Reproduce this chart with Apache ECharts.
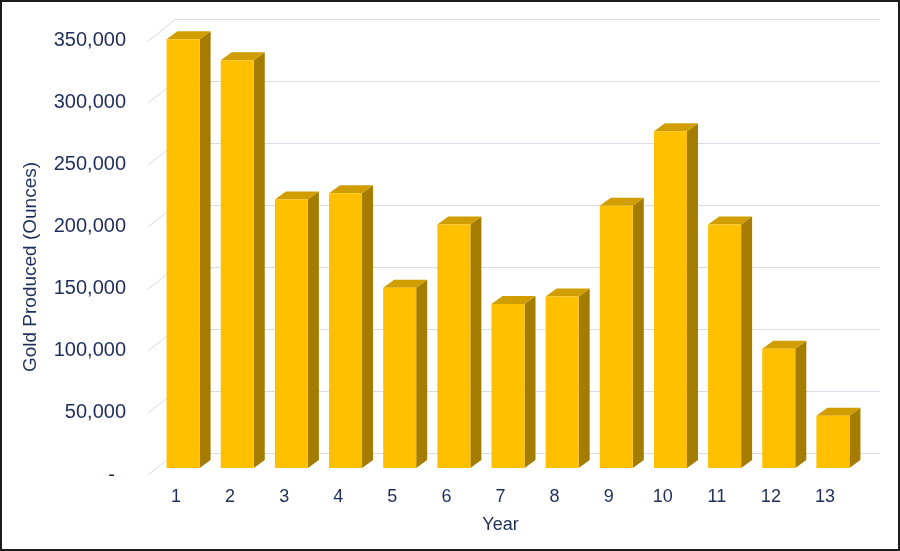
<!DOCTYPE html>
<html>
<head>
<meta charset="utf-8">
<script src="https://cdn.jsdelivr.net/npm/echarts@6/dist/echarts.min.js"></script>
<style>
html,body{margin:0;padding:0;background:#fff;}
#chart{width:900px;height:551px;box-sizing:border-box;border:2px solid #1c1c1c;}
</style>
</head>
<body>
<div id="chart"></div>
<script>
var years = ['1','2','3','4','5','6','7','8','9','10','11','12','13'];
var goldOunces = [345000, 328000, 216000, 221000, 145000, 196000, 132000, 138000, 211000, 271000, 196000, 96000, 42000];
var yTicks = [0, 50000, 100000, 150000, 200000, 250000, 300000, 350000];
var yMax = 350000;
var yStep = 50000;

var textColor = '#1f2d5a';
var gridColor = '#d8dce8';
var faceColor = '#ffc000';
var topColor = '#d09e00';
var sideColor = '#a47c00';
var depthX = 28, depthY = -22;   // wall depth
var barDX = 11, barDY = -8;      // bar depth

var chart = echarts.init(document.getElementById('chart'), null, {renderer: 'canvas'});

var option = {
  backgroundColor: '#ffffff',
  animation: false,
  textStyle: {fontFamily: 'Liberation Sans, Arial, sans-serif'},
  grid: [
    {left: 174, right: 18, top: 17, bottom: 96},   // back wall
    {left: 147, right: 46, top: 38, bottom: 74},   // front labels
    {left: 154, right: 38, top: 31, bottom: 81}    // bars
  ],
  xAxis: [
    {gridIndex: 0, type: 'value', min: 0, max: 1, show: false},
    {gridIndex: 1, type: 'category', data: years,
     axisLine: {show: false}, axisTick: {show: false},
     axisLabel: {color: textColor, fontSize: 18, margin: 13, fontFamily: 'Liberation Sans'},
     name: 'Year', nameLocation: 'middle', nameGap: 41,
     nameTextStyle: {color: textColor, fontSize: 18, fontFamily: 'Liberation Sans'}},
    {gridIndex: 2, type: 'category', data: years, show: false}
  ],
  yAxis: [
    {gridIndex: 0, type: 'value', min: 0, max: yMax, interval: yStep,
     axisLine: {show: false}, axisTick: {show: false}, axisLabel: {show: false},
     splitLine: {show: true, lineStyle: {color: gridColor, width: 1}}},
    {gridIndex: 1, type: 'value', min: 0, max: yMax, interval: yStep,
     axisLine: {show: false}, axisTick: {show: false}, splitLine: {show: false},
     axisLabel: {color: textColor, fontSize: 20, margin: 23, fontFamily: 'Liberation Sans',
       formatter: function (v) { return v === 0 ? '-  ' : v.toLocaleString('en-US'); }}},
    {gridIndex: 2, type: 'value', min: 0, max: yMax, show: false}
  ],
  graphic: [{
    type: 'text', x: 29, y: 265, rotation: Math.PI / 2,
    style: {text: 'Gold Produced (Ounces)', fill: textColor, font: '19px Liberation Sans',
            textAlign: 'center', textVerticalAlign: 'middle'}
  }],
  series: [
    {
      type: 'custom', xAxisIndex: 0, yAxisIndex: 0, z: 1, silent: true,
      data: yTicks.map(function (t) { return [0, t]; }),
      renderItem: function (params, api) {
        var p = api.coord([0, api.value(1)]);
        return {type: 'line', shape: {x1: p[0] - depthX, y1: p[1] - depthY, x2: p[0], y2: p[1]},
                style: {stroke: gridColor, lineWidth: 1}};
      }
    },
    {
      type: 'custom', xAxisIndex: 2, yAxisIndex: 2, z: 5, silent: true,
      data: goldOunces.map(function (v, i) { return [i, v]; }),
      renderItem: function (params, api) {
        var i = api.value(0), v = api.value(1);
        var b = api.coord([i, 0]);
        var t = api.coord([i, v]);
        var w = api.size([1, 0])[0] * 0.61;
        var xl = b[0] - w / 2, xr = b[0] + w / 2, yb = b[1], yt = t[1];
        return {type: 'group', children: [
          {type: 'polygon', shape: {points: [[xr, yt], [xr + barDX, yt + barDY], [xr + barDX, yb + barDY], [xr, yb]]},
           style: {fill: sideColor}},
          {type: 'polygon', shape: {points: [[xl, yt], [xl + barDX, yt + barDY], [xr + barDX, yt + barDY], [xr, yt]]},
           style: {fill: topColor}},
          {type: 'rect', shape: {x: xl, y: yt, width: w, height: yb - yt}, style: {fill: faceColor}}
        ]};
      }
    }
  ]
};
chart.setOption(option);
</script>
</body>
</html>
